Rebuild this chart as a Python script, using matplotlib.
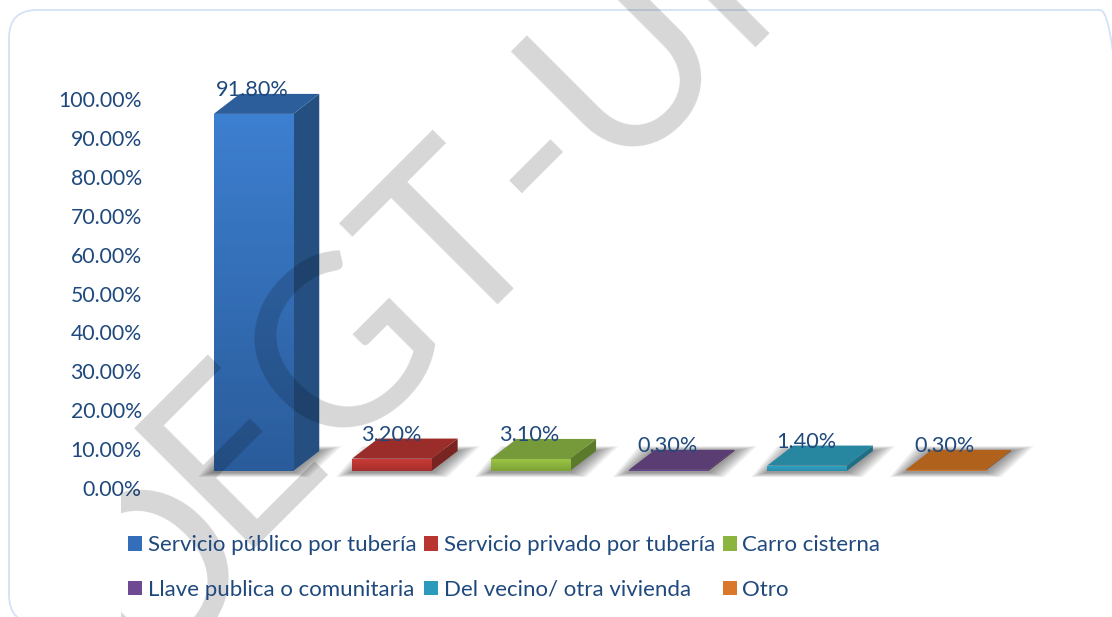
import matplotlib
matplotlib.use('Agg')
import matplotlib.pyplot as plt
import matplotlib.patches as patches
from matplotlib.transforms import ScaledTranslation, IdentityTransform, Bbox
import numpy as np

categories = ['Servicio público por tubería', 'Servicio privado por tubería', 'Carro cisterna',
              'Llave publica o comunitaria', 'Del vecino/ otra vivienda', 'Otro']
values = [91.8, 3.2, 3.1, 0.3, 1.4, 0.3]
value_labels = ['91.80%', '3.20%', '3.10%', '0.30%', '1.40%', '0.30%']
y_ticks = [0, 10, 20, 30, 40, 50, 60, 70, 80, 90, 100]
y_tick_labels = ['%.2f%%' % v for v in y_ticks]

front_top = ['#3d7fd0', '#cc3c38', '#9dc746', '#7a52a0', '#2fa8ca', '#e8812b']
front_bottom = ['#2a5c9b', '#a32e2b', '#7da338', '#5f4080', '#2a8cab', '#c56c20']
top_faces = ['#2b5e9b', '#9a2c29', '#76993a', '#5a3d73', '#2786a0', '#b0611c']
side_faces = ['#244f80', '#7a2422', '#5c7a2c', '#463059', '#1f6e85', '#8c4d16']
legend_colors = ['#346dba', '#b93532', '#8cb53f', '#6d4a91', '#2c9aba', '#d9772a']

TEXT = '#1f497d'
W, H = 1112, 617
PX_X = 138.4   # pixels per category
PX_Y = 3.89    # pixels per percent
DX, DY = 26, 20  # depth of the 3d look, pixels

plt.rcParams['font.family'] = ['Lato', 'DejaVu Sans']

fig = plt.figure(figsize=(W / 100, H / 100), dpi=100)

# axes: left 150px, bottom of bars at 471px from the top
left, right, top, bottom = 150, 1060, 60, 471
ax = fig.add_axes([left / W, 1 - bottom / H, (right - left) / W, (bottom - top) / H])
ax.set_facecolor('none')
ax.set_xticks([])
ax.set_yticks(y_ticks)
ax.set_yticklabels(y_tick_labels)
for s in ax.spines.values():
    s.set_visible(False)
ax.tick_params(axis='y', length=0, pad=6, labelsize=15.3, labelcolor=TEXT)
# tick labels sit lower than the front face of the bars
down = ScaledTranslation(0, -17 / 100, fig.dpi_scale_trans)
for lab in ax.get_yticklabels():
    lab.set_transform(lab.get_transform() + down)

dx = DX / PX_X
dy = DY / PX_Y
bar_w = 79.5 / PX_X

# soft shadow under each bar
for i in range(len(values)):
    xl = i - bar_w / 2
    xr = i + bar_w / 2
    for grow in range(16, 0, -2):
        gx = grow / PX_X
        gy = grow * 0.3 / PX_Y
        pts = [(xl - gx, -gy - 0.3), (xr + gx, -gy - 0.3),
               (xr + dx + gx * 1.4, dy + gy), (xl + dx - gx, dy + gy)]
        ax.add_patch(patches.Polygon(pts, closed=True, facecolor='black', edgecolor='none',
                                     alpha=0.06, clip_on=False, zorder=1))

# bars with a fake 3d side and top
bars = ax.bar(range(len(values)), values, width=bar_w, color=front_top, linewidth=0, zorder=3)
for i, b in enumerate(bars):
    xl, xr = b.get_x(), b.get_x() + b.get_width()
    h = b.get_height()
    ax.add_patch(patches.Polygon([(xr, 0), (xr + dx, dy), (xr + dx, h + dy), (xr, h)],
                                 facecolor=side_faces[i], edgecolor='none', zorder=2.5))
    ax.add_patch(patches.Polygon([(xl, h), (xr, h), (xr + dx, h + dy), (xl + dx, h + dy)],
                                 facecolor=top_faces[i], edgecolor='none', zorder=2.6))
    c0 = np.array(matplotlib.colors.to_rgb(front_top[i]))
    c1 = np.array(matplotlib.colors.to_rgb(front_bottom[i]))
    t = np.linspace(0, 1, 64)[:, None]
    grad = (c0 * (1 - t) + c1 * t)[:, None, :]
    im = ax.imshow(grad, extent=(xl, xr, 0, h), aspect='auto', zorder=3.1)
    im.set_clip_path(b)
    ax.annotate(value_labels[i], xy=(xl + b.get_width() / 2, h), xytext=(-1, 24),
                textcoords='offset pixels', ha='center', va='center', fontsize=15.6,
                color=TEXT, zorder=6, annotation_clip=False)

x0 = (left - 253.5) / PX_X
ax.set_xlim(x0, x0 + (right - left) / PX_X)
ax.set_ylim(0, (bottom - top) / PX_Y)

# legend, filled column by column
order = [0, 3, 1, 4, 2, 5]
handles = [patches.Patch(facecolor=legend_colors[i], edgecolor='none') for i in order]
labels = [categories[i] for i in order]
fig.legend(handles, labels, ncol=3, loc='upper left', bbox_to_anchor=(128 / W, 1 - 535 / H),
           frameon=False, fontsize=16, labelcolor=TEXT, handlelength=0.64, handleheight=0.64,
           handletextpad=0.25, columnspacing=0.34, labelspacing=1.12, borderpad=0, borderaxespad=0)

# rounded frame of the chart area, cut by the right and bottom edge of the picture
frame = patches.FancyBboxPatch((9, -6), 1119, 613, boxstyle='round,pad=0,rounding_size=28',
                               facecolor='none', edgecolor='#d4e2f5', linewidth=1.3,
                               transform=IdentityTransform(), zorder=0.5)
fig.add_artist(frame)

# watermark across the page, it stops at x=121 on the left
for word, wx, wy in [('D', 136, 681), ('EGT-UNI', 233, 549)]:
    wm = fig.text(wx / W, 1 - wy / H, word, rotation=45, rotation_mode='anchor',
                  ha='left', va='baseline', fontsize=170, family='Lato',
                  color='black', alpha=0.16, zorder=5)
    wm.set_clip_box(Bbox([[121, 0], [W, H]]))
    wm.set_clip_on(True)

fig.savefig('out.png', dpi=100)
